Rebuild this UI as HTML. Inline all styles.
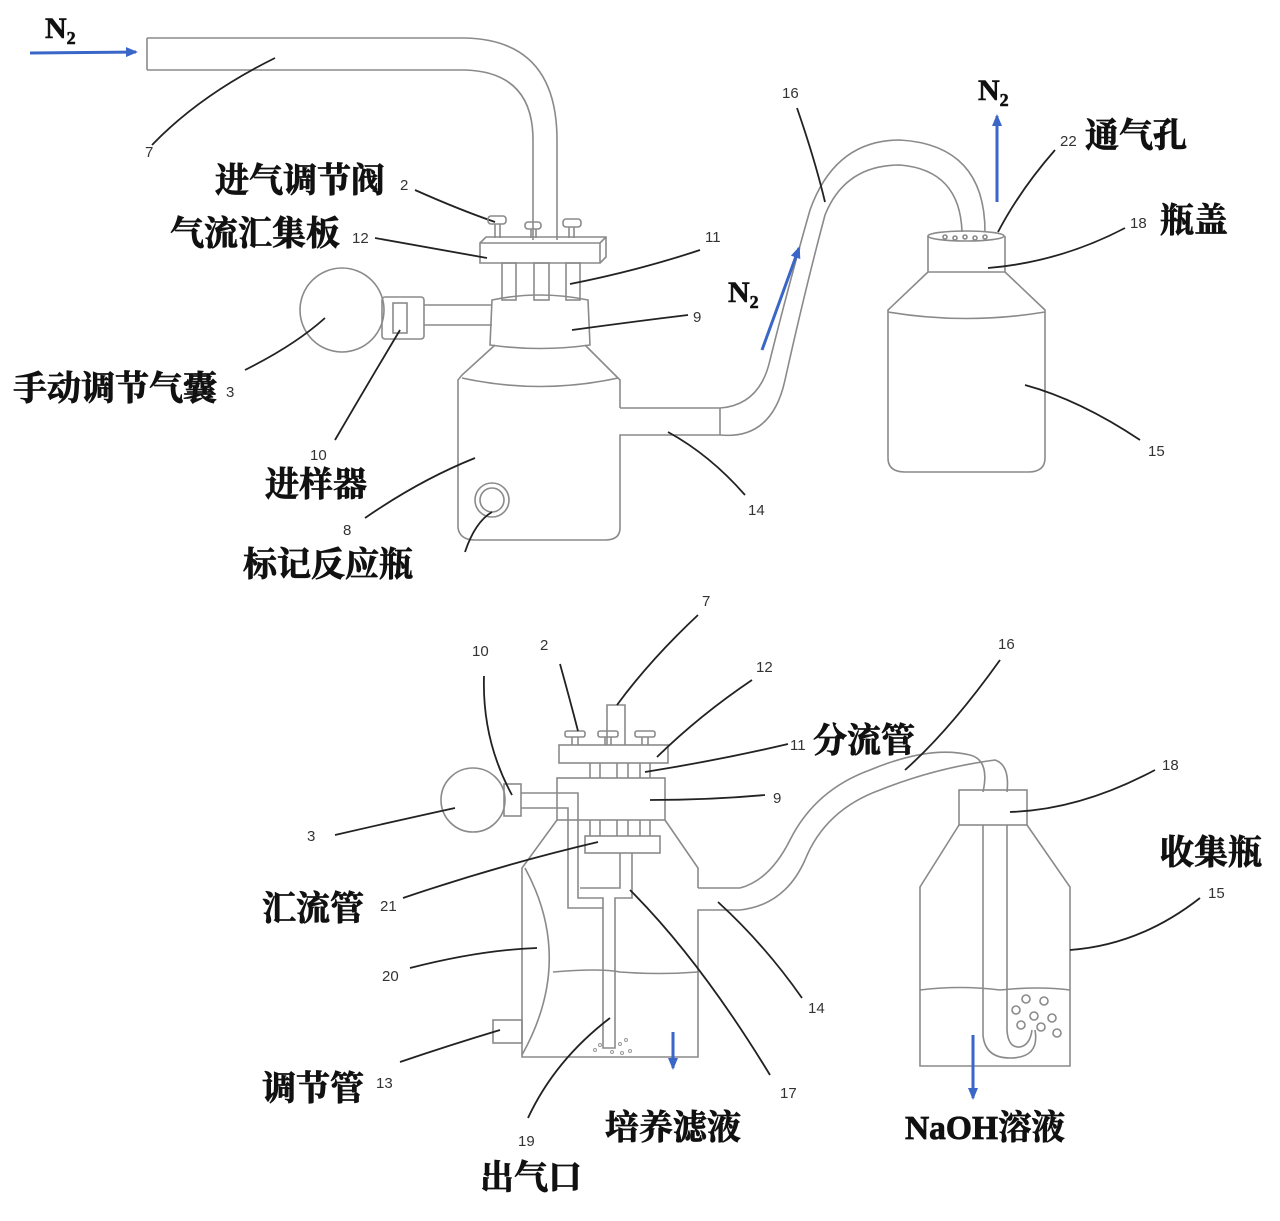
<!DOCTYPE html>
<html><head><meta charset="utf-8"><style>
html,body{margin:0;padding:0;background:#fff;}
svg{display:block}
.l{fill:none;stroke:#8a8a8a;stroke-width:1.6}
.k{fill:none;stroke:#222;stroke-width:1.8}
.b{fill:none;stroke:#3a66c8;stroke-width:3}
.t{font-family:"Liberation Serif","Noto Serif CJK SC",serif;font-weight:700;font-size:34px;fill:#111;stroke:#111;stroke-width:0.8}
.n{font-family:"Liberation Sans",sans-serif;font-size:15px;fill:#333}
.N{font-family:"Liberation Serif",serif;font-weight:700;font-size:30px;fill:#111;stroke:#111;stroke-width:0.6}
</style></head><body>
<svg width="1280" height="1221" viewBox="0 0 1280 1221" xmlns="http://www.w3.org/2000/svg">
<defs><marker id="a" markerUnits="userSpaceOnUse" markerWidth="12" markerHeight="10" refX="10" refY="5" orient="auto"><path d="M0,0 L12,5 L0,10 z" fill="#3a66c8"/></marker></defs>

<!-- ===== TOP DIAGRAM ===== -->
<text x="45" y="38" class="N">N<tspan font-size="18" dy="6">2</tspan></text>
<line x1="30" y1="53" x2="136" y2="52" class="b" marker-end="url(#a)"/>
<path class="l" d="M147,38 L465,38 Q557,40 557,140 L557,240 M147,70 L465,70 Q533,72 533,140 L533,240 M147,38 L147,70"/>
<path class="k" d="M152,145 Q200,95 275,58"/><text x="145" y="157" class="n">7</text>
<text x="215" y="192" class="t">进气调节阀</text><text x="400" y="190" class="n">2</text>
<path class="k" d="M415,190 Q460,210 495,222"/>
<g class="l"><rect x="488" y="216" width="18" height="8" rx="3"/><rect x="525" y="222" width="16" height="7" rx="3"/><rect x="563" y="219" width="18" height="8" rx="3"/>
<line x1="495" y1="224" x2="495" y2="238"/><line x1="500" y1="224" x2="500" y2="238"/><line x1="531" y1="229" x2="531" y2="238"/><line x1="536" y1="229" x2="536" y2="238"/><line x1="569" y1="227" x2="569" y2="238"/><line x1="574" y1="227" x2="574" y2="238"/></g>
<path class="l" d="M480,243 L600,243 L600,263 L480,263 Z M480,243 L486,237 L606,237 L606,257 L600,263 M600,243 L606,237"/>
<text x="170" y="245" class="t">气流汇集板</text><text x="352" y="243" class="n">12</text>
<path class="k" d="M375,238 Q430,248 487,258"/>
<g class="l"><rect x="502" y="263" width="14" height="37"/><rect x="534" y="263" width="15" height="37"/><rect x="566" y="263" width="14" height="37"/></g>
<text x="705" y="242" class="n">11</text><path class="k" d="M700,250 Q640,270 570,284"/>
<path class="l" d="M492,300 Q540,290 588,300 L590,345 Q540,352 490,345 Z"/>
<text x="693" y="322" class="n">9</text><path class="k" d="M688,315 Q630,322 572,330"/>
<path class="l" d="M495,345 L462,375 L458,380 L458,528 Q460,540 475,540 L605,540 Q620,540 620,528 L620,435 L720,435 M620,408 L720,408 M620,408 L620,380 L585,345"/>
<path class="l" d="M462,378 Q540,395 618,378"/>
<circle cx="492" cy="500" r="17" class="l"/><circle cx="492" cy="500" r="12" class="l"/>
<circle cx="342" cy="310" r="42" class="l"/>
<rect x="382" y="297" width="42" height="42" rx="3" class="l"/><rect x="393" y="303" width="14" height="30" class="l"/>
<path class="l" d="M424,305 L492,305 M424,325 L492,325"/>
<text x="13" y="400" class="t">手动调节气囊</text><text x="226" y="397" class="n">3</text>
<path class="k" d="M245,370 Q295,345 325,318"/>
<text x="310" y="460" class="n">10</text><path class="k" d="M335,440 Q370,380 400,330"/>
<text x="265" y="496" class="t">进样器</text>
<text x="343" y="535" class="n">8</text><path class="k" d="M365,518 Q420,480 475,458"/>
<text x="243" y="576" class="t">标记反应瓶</text>
<path class="k" d="M465,552 Q475,522 492,512"/>
<text x="748" y="515" class="n">14</text><path class="k" d="M745,495 Q710,455 668,432"/>
<path class="l" d="M720,408 Q760,405 770,360 Q790,280 810,210 Q835,140 900,140 Q985,145 985,232"/>
<path class="l" d="M720,435 Q772,440 785,380 Q805,290 825,215 Q845,165 900,165 Q960,170 962,232"/>
<line x1="720" y1="408" x2="720" y2="435" class="l"/>
<text x="782" y="98" class="n">16</text><path class="k" d="M797,108 Q815,160 825,202"/>
<line x1="762" y1="350" x2="799" y2="248" class="b" marker-end="url(#a)"/>
<text x="728" y="302" class="N">N<tspan font-size="18" dy="6">2</tspan></text>
<ellipse cx="966" cy="236" rx="38" ry="5" class="l"/>
<path class="l" d="M928,236 L928,272 L1005,272 L1005,236 M928,272 L888,310 L888,458 Q888,472 905,472 L1028,472 Q1045,472 1045,458 L1045,310 L1005,272"/>
<path class="l" d="M888,312 Q966,325 1045,312"/>
<g class="l" stroke-width="1"><circle cx="945" cy="237" r="2"/><circle cx="955" cy="238" r="2"/><circle cx="965" cy="237" r="2"/><circle cx="975" cy="238" r="2"/><circle cx="985" cy="237" r="2"/></g>
<text x="1148" y="456" class="n">15</text><path class="k" d="M1140,440 Q1080,400 1025,385"/>
<text x="1130" y="228" class="n">18</text><text x="1160" y="232" class="t">瓶盖</text>
<path class="k" d="M1125,228 Q1060,262 988,268"/>
<text x="1060" y="146" class="n">22</text><text x="1085" y="147" class="t">通气孔</text>
<path class="k" d="M1055,150 Q1020,190 998,232"/>
<line x1="997" y1="202" x2="997" y2="116" class="b" marker-end="url(#a)"/>
<text x="978" y="100" class="N">N<tspan font-size="18" dy="6">2</tspan></text>

<!-- ===== BOTTOM DIAGRAM ===== -->
<path class="l" d="M607,745 L607,705 L625,705 L625,745"/>
<g class="l"><rect x="565" y="731" width="20" height="6" rx="2"/><rect x="598" y="731" width="20" height="6" rx="2"/><rect x="635" y="731" width="20" height="6" rx="2"/>
<line x1="572" y1="737" x2="572" y2="745"/><line x1="578" y1="737" x2="578" y2="745"/><line x1="605" y1="737" x2="605" y2="745"/><line x1="611" y1="737" x2="611" y2="745"/><line x1="642" y1="737" x2="642" y2="745"/><line x1="648" y1="737" x2="648" y2="745"/></g>
<rect x="559" y="745" width="109" height="18" class="l"/>
<g class="l"><line x1="590" y1="763" x2="590" y2="778"/><line x1="600" y1="763" x2="600" y2="778"/><line x1="617" y1="763" x2="617" y2="778"/><line x1="628" y1="763" x2="628" y2="778"/><line x1="640" y1="763" x2="640" y2="778"/><line x1="650" y1="763" x2="650" y2="778"/></g>
<rect x="557" y="778" width="108" height="42" class="l"/>
<g class="l"><line x1="590" y1="820" x2="590" y2="836"/><line x1="600" y1="820" x2="600" y2="836"/><line x1="617" y1="820" x2="617" y2="836"/><line x1="628" y1="820" x2="628" y2="836"/><line x1="640" y1="820" x2="640" y2="836"/><line x1="650" y1="820" x2="650" y2="836"/></g>
<rect x="585" y="836" width="75" height="17" class="l"/>
<circle cx="473" cy="800" r="32" class="l"/>
<rect x="504" y="784" width="17" height="32" class="l"/>
<path class="l" d="M521,793 L578,793 L578,898 L603,898 L603,1048 L615,1048 L615,898 L632,898 L632,853 M521,808 L568,808 L568,908 L603,908 M620,853 L620,888 L580,888"/>
<path class="l" d="M557,820 L522,868 L522,1057 L698,1057 L698,910 L740,910 M698,888 L740,888 M698,888 L698,868 L665,820"/>
<path class="l" d="M525,868 Q575,960 522,1055"/>
<path class="l" d="M553,972 Q600,968 620,972 Q660,975 698,972"/>
<rect x="493" y="1020" width="29" height="23" class="l"/>
<g fill="none" stroke="#999" stroke-width="1"><circle cx="595" cy="1050" r="1.5"/><circle cx="600" cy="1045" r="1.5"/><circle cx="612" cy="1052" r="1.5"/><circle cx="620" cy="1044" r="1.5"/><circle cx="626" cy="1040" r="1.5"/><circle cx="630" cy="1051" r="1.5"/><circle cx="622" cy="1053" r="1.5"/></g>
<line x1="673" y1="1032" x2="673" y2="1068" class="b" marker-end="url(#a)"/>
<path class="l" d="M740,888 Q770,880 790,840 Q815,790 870,770 Q930,745 970,755 Q990,760 983,792"/>
<path class="l" d="M740,910 Q785,905 805,860 Q825,810 880,790 Q935,768 995,760 Q1010,765 1007,792"/>
<rect x="959" y="790" width="68" height="35" class="l"/>
<path class="l" d="M959,825 L920,887 L920,1066 L1070,1066 L1070,887 L1027,825"/>
<path class="l" d="M920,990 Q960,985 1000,990 Q1040,986 1070,990"/>
<path class="l" d="M983,825 L983,1035 Q985,1058 1010,1058 Q1040,1058 1035,1030 M1007,825 L1007,1030 Q1008,1048 1020,1047 Q1030,1045 1032,1030"/>
<g class="l" stroke-width="1.2"><circle cx="1026" cy="999" r="4"/><circle cx="1044" cy="1001" r="4"/><circle cx="1016" cy="1010" r="4"/><circle cx="1034" cy="1016" r="4"/><circle cx="1052" cy="1018" r="4"/><circle cx="1021" cy="1025" r="4"/><circle cx="1041" cy="1027" r="4"/><circle cx="1057" cy="1033" r="4"/></g>
<line x1="973" y1="1035" x2="973" y2="1098" class="b" marker-end="url(#a)"/>

<text x="472" y="656" class="n">10</text><path class="k" d="M484,676 Q482,740 512,795"/>
<text x="540" y="650" class="n">2</text><path class="k" d="M560,664 Q570,700 578,731"/>
<text x="702" y="606" class="n">7</text><path class="k" d="M698,615 Q650,660 617,705"/>
<text x="756" y="672" class="n">12</text><path class="k" d="M752,680 Q700,715 657,757"/>
<text x="790" y="750" class="n">11</text><text x="813" y="752" class="t">分流管</text>
<path class="k" d="M788,744 Q720,760 645,772"/>
<text x="773" y="803" class="n">9</text><path class="k" d="M765,795 Q710,800 650,800"/>
<text x="998" y="649" class="n">16</text><path class="k" d="M1000,660 Q950,730 905,770"/>
<text x="1162" y="770" class="n">18</text><path class="k" d="M1155,770 Q1080,810 1010,812"/>
<text x="1160" y="864" class="t">收集瓶</text>
<text x="1208" y="898" class="n">15</text><path class="k" d="M1200,898 Q1140,945 1070,950"/>
<text x="307" y="841" class="n">3</text><path class="k" d="M335,835 Q400,820 455,808"/>
<text x="262" y="920" class="t">汇流管</text><text x="380" y="911" class="n">21</text>
<path class="k" d="M403,898 Q500,865 598,842"/>
<text x="382" y="981" class="n">20</text><path class="k" d="M410,968 Q480,950 537,948"/>
<text x="808" y="1013" class="n">14</text><path class="k" d="M802,998 Q765,945 718,902"/>
<text x="262" y="1100" class="t">调节管</text><text x="376" y="1088" class="n">13</text>
<path class="k" d="M400,1062 Q450,1045 500,1030"/>
<text x="518" y="1146" class="n">19</text><path class="k" d="M528,1118 Q555,1060 610,1018"/>
<text x="480" y="1189" class="t">出气口</text>
<text x="780" y="1098" class="n">17</text><path class="k" d="M770,1075 Q700,960 630,890"/>
<text x="605" y="1139" class="t">培养滤液</text>
<text x="905" y="1139" class="t" textLength="160" lengthAdjust="spacingAndGlyphs">NaOH溶液</text>
</svg>
</body></html>
